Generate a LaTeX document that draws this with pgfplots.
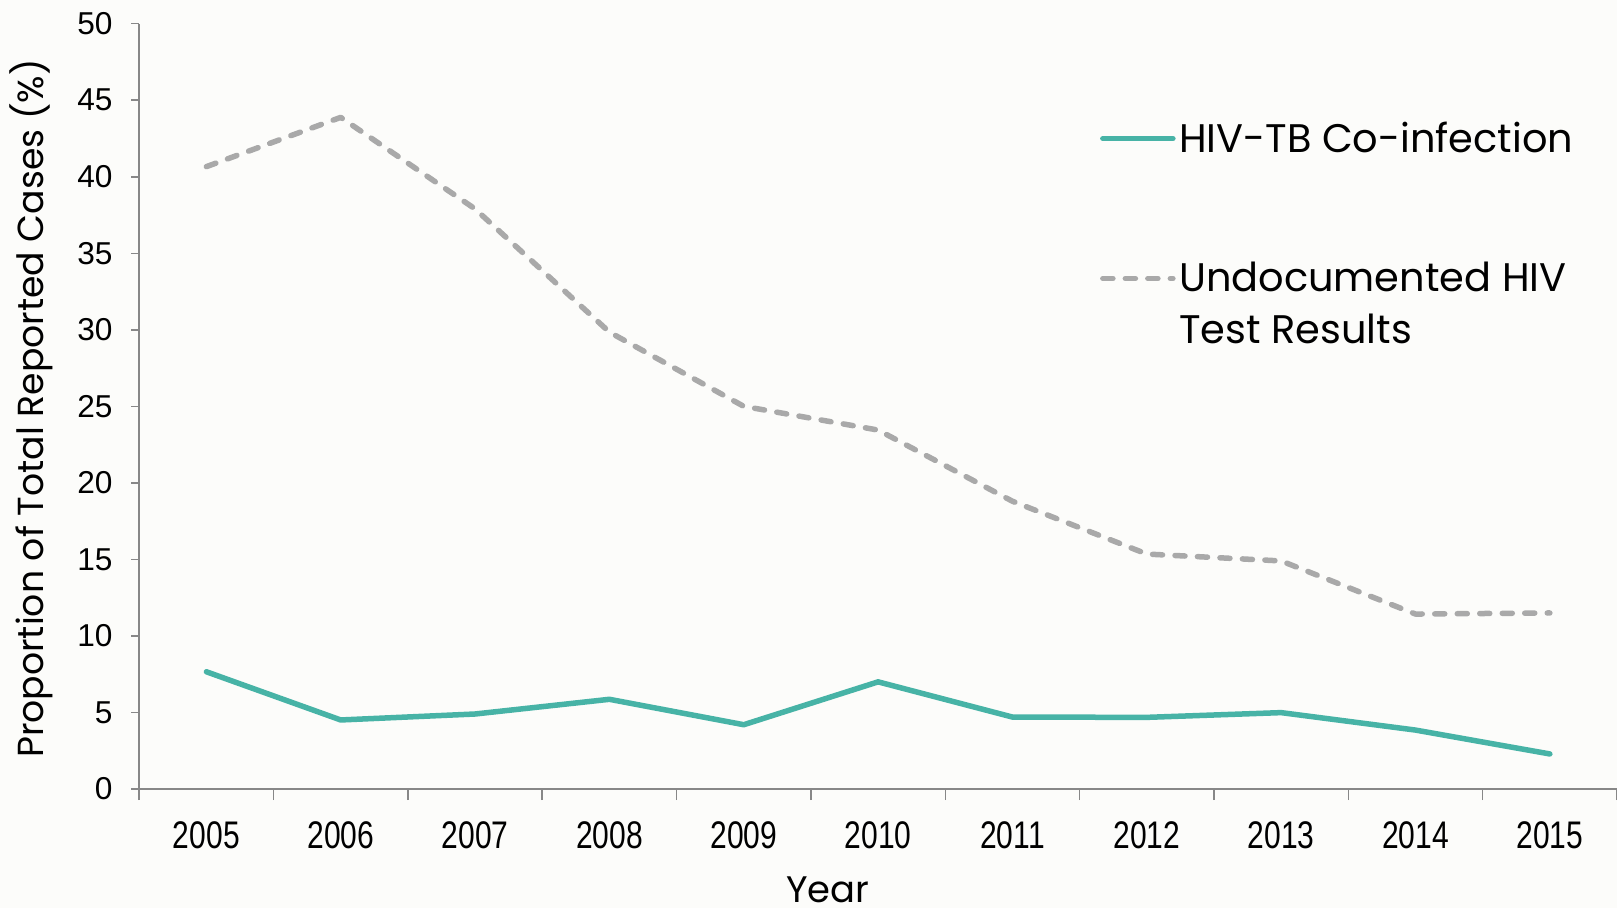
\documentclass[border=0pt]{standalone}
\usepackage{pgfplots}
\pgfplotsset{compat=1.18}
\usepackage{fontspec}
\setmainfont{Poppins}
\newfontfamily\arialf{Liberation Sans}
\definecolor{bgc}{HTML}{FCFCFA}
\definecolor{teal1}{HTML}{47B3A6}
\definecolor{gray1}{HTML}{A9A9A9}
\definecolor{axg}{HTML}{878787}
\begin{document}
\begin{tikzpicture}
\fill[bgc] (0,0) rectangle (323.4mm,181.6mm);
\useasboundingbox (0,0) rectangle (323.4mm,181.6mm);
\begin{axis}[
  at={(27.84mm,23.8mm)}, anchor=south west,
  scale only axis, width=295.56mm, height=153.06mm,
  xmin=-0.5, xmax=10.5, ymin=0, ymax=50,
  axis lines=left, axis line style={-, axg, line width=0.3mm},
  xtick={0,...,10},
  xticklabels={2005,2006,2007,2008,2009,2010,2011,2012,2013,2014,2015},
  minor xtick={-0.5,0.5,...,10.5},
  ytick={0,5,...,50},
  tick align=outside,
  major tick length=1.6mm, minor tick length=2.2mm,
  major x tick style={draw=none},
  tick style={axg, line width=0.3mm},
  /pgf/number format/assume math mode=true,
  yticklabel style={font=\arialf\fontsize{18}{21}\selectfont, text=black, xshift=-2.5mm},
  xticklabel style={font=\arialf\fontsize{21.9}{26}\selectfont, xscale=0.78, text=black, yshift=-3.6mm},
  ylabel={Proportion of Total Reported Cases (\%)},
  ylabel style={at={(axis description cs:-0.0732,0.497)}, anchor=center, font=\fontsize{20.6}{25}\selectfont},
  xlabel={Year},
  xlabel style={at={(axis description cs:0.466,-0.1477)}, anchor=base, font=\fontsize{21}{25}\selectfont},
  legend style={at={(rel axis cs:0.650,0.8765)}, anchor=north west, draw=none, fill=none,
    font=\fontsize{22.7}{29.5}\selectfont, row sep=57pt, inner sep=0pt},
  legend cell align=left,
  legend image code/.code={\draw[#1] (0mm,0mm) -- (14mm,0mm);},
]
\addplot[teal1, line width=1.1mm, line cap=round, line join=round] coordinates {
 (0,7.66) (1,4.51) (2,4.9) (3,5.86) (4,4.2) (5,7.0) (6,4.7) (7,4.68) (8,4.99) (9,3.85) (10,2.29)};
\addlegendentry{HIV-TB Co-infection}
\addplot[gray1, line width=1.1mm, line cap=round, line join=round, dash pattern=on 2mm off 2.5mm] coordinates {
 (0,40.66) (1,43.88) (2,37.9) (3,29.85) (4,25.0) (5,23.45) (6,18.8) (7,15.35) (8,14.9) (9,11.43) (10,11.5)};
\addlegendentry{\vtop{\hbox{Undocumented HIV}\hbox{Test Results}}}
\end{axis}
\end{tikzpicture}
\end{document}
